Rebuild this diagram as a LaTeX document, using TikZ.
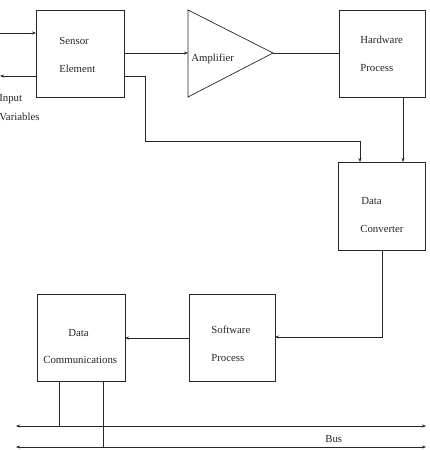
\documentclass[tikz,border=0pt]{standalone}
\usepackage{fontspec}
\setmainfont{Liberation Serif}
\usetikzlibrary{arrows.meta}
\begin{document}
\begin{tikzpicture}[x=1pt,y=-1pt,
  line width=0.7pt, draw=black!85,
  box/.style={draw, inner sep=0pt, outer sep=0pt},
  lbl/.style={anchor=base west, inner sep=0pt, font=\fontsize{10.8}{13}\selectfont, text=black!85},
  arr/.style={-{Stealth[length=4pt,width=3pt]}},
  dbl/.style={{Stealth[length=4pt,width=3pt]}-{Stealth[length=4pt,width=3pt]}}]
\useasboundingbox (0,0) rectangle (429,450);
% boxes
\node[box, minimum width=88pt, minimum height=87pt] (sensor) at (80,53.5) {};
\node[box, minimum width=86pt, minimum height=87pt] (hw) at (382,53.5) {};
\node[box, minimum width=87pt, minimum height=88pt] (conv) at (381.5,206) {};
\node[box, minimum width=86pt, minimum height=87pt] (sw) at (232,337.5) {};
\node[box, minimum width=88pt, minimum height=87pt] (comm) at (81,337.5) {};
% amplifier
\coordinate (ampin) at (188,53);
\coordinate (ampout) at (273,53);
\draw (188,10) -- (ampout) -- (188,97) -- cycle;
% labels
\node[lbl] (t1) at (59,44) {Sensor};
\node[lbl] (t2) at (59,72) {Element};
\node[lbl] (t3) at (191,61) {Amplifier};
\node[lbl] (t4) at (360,43) {Hardware};
\node[lbl] (t5) at (360,71) {Process};
\node[lbl] (t6) at (361,204) {Data};
\node[lbl] (t7) at (360,232) {Converter};
\node[lbl] (t8) at (211,333) {Software};
\node[lbl] (t9) at (211,361) {Process};
\node[lbl] (t10) at (68,336) {Data};
\node[lbl] (t11) at (43,363) {Communications};
\node[lbl] (t12) at (-1,101) {Input};
\node[lbl] (t13) at (-1,120) {Variables};
\node[lbl] (t14) at (325,442) {Bus};
% coordinates
\coordinate (in1) at (0,33);
\coordinate (in2) at (0,76);
\coordinate (s2) at (124,76);
\coordinate (k1) at (145,76);
\coordinate (k2) at (145,141);
\coordinate (k3) at (360,141);
\coordinate (c1) at (360,162);
\coordinate (h1) at (403,97);
\coordinate (c2) at (403,162);
\coordinate (c3) at (382,250);
\coordinate (k4) at (382,337);
\coordinate (sw1) at (275,337);
\coordinate (sw2) at (189,338);
\coordinate (cm1) at (125,338);
\coordinate (b1top) at (59,381);
\coordinate (b1) at (59,426);
\coordinate (b2top) at (103,381);
\coordinate (b2) at (103,447);
\coordinate (busL1) at (16,426);
\coordinate (busR1) at (426,426);
\coordinate (busL2) at (16,447);
\coordinate (busR2) at (426,447);
% connectors
\draw[arr] (in1) -- (sensor.west |- in1);
\draw[arr] (sensor.west |- in2) -- (in2);
\draw[arr] (sensor.east |- ampin) -- (ampin);
\draw[arr] (s2) -- (k1) -- (k2) -- (k3) -- (c1);
\draw (ampout) -- (hw.west |- ampout);
\draw[arr] (h1) -- (c2);
\draw[arr] (c3) -- (k4) -- (sw1);
\draw[arr] (sw2) -- (cm1);
\draw (b1top) -- (b1);
\draw (b2top) -- (b2);
\draw[dbl] (busL1) -- (busR1);
\draw[dbl] (busL2) -- (busR2);
\end{tikzpicture}
\end{document}
